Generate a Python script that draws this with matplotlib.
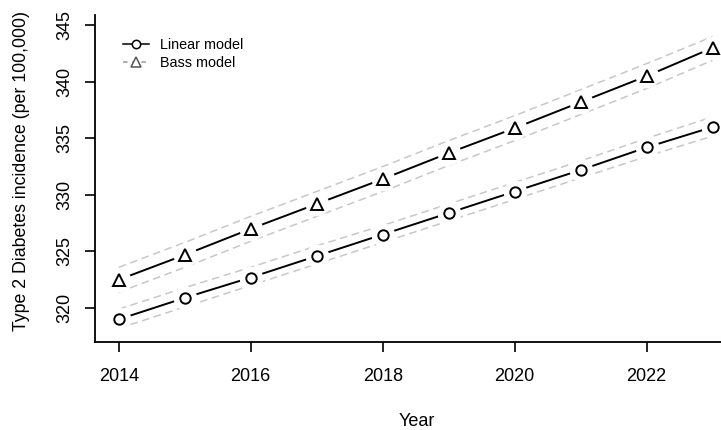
import matplotlib
matplotlib.use("Agg")
import matplotlib.pyplot as plt
from matplotlib.lines import Line2D
import numpy as np

years = [2014, 2015, 2016, 2017, 2018, 2019, 2020, 2021, 2022, 2023]
linear = [319.0, 320.9, 322.7, 324.6, 326.5, 328.4, 330.3, 332.2, 334.2, 336.0]
linear_lo = [318.2, 320.1, 322.0, 323.9, 325.8, 327.7, 329.6, 331.5, 333.4, 335.2]
linear_hi = [319.9, 321.8, 323.6, 325.5, 327.3, 329.2, 331.1, 333.0, 335.0, 336.9]
bass = [322.5, 324.7, 327.0, 329.2, 331.4, 333.7, 335.9, 338.2, 340.5, 343.0]
bass_lo = [321.4, 323.6, 325.9, 328.1, 330.3, 332.6, 334.8, 337.1, 339.4, 341.9]
bass_hi = [323.6, 325.8, 328.1, 330.3, 332.5, 334.8, 337.0, 339.3, 341.6, 344.0]
xticks = [2014, 2016, 2018, 2020, 2022]
yticks = [320, 325, 330, 335, 340, 345]

plt.rcParams['font.family'] = ['Liberation Sans', 'DejaVu Sans']

fig = plt.figure(figsize=(7.21, 4.30), dpi=100)
W, H = 721, 430
ax = fig.add_axes([95/W, 88/H, (739-95)/W, (342-15)/H])

gray = '#c8c8c8'
for lo, hi in [(linear_lo, linear_hi), (bass_lo, bass_hi)]:
    ax.plot(years, lo, color=gray, lw=1.1, ls=(0, (5, 3)), zorder=1)
    ax.plot(years, hi, color=gray, lw=1.1, ls=(0, (5, 3)), zorder=1)

for vals, mk, ms in [(linear, 'o', 7.5), (bass, '^', 8.5)]:
    ax.plot(years, vals, color='black', lw=1.4, zorder=2)
    # white gaps around markers (R type="b")
    ax.plot(years, vals, ls='none', marker='o', ms=17, mfc='white', mec='none', zorder=3)
    ax.plot(years, vals, ls='none', marker=mk, ms=ms, mfc='white', mec='black', mew=1.4, zorder=4)

ax.set_xlim(2013.64, 2023.4)
ax.set_ylim(317.0, 345.9)
ax.set_xticks(xticks)
ax.set_yticks(yticks)
ax.set_xticklabels([str(t) for t in xticks])
ax.set_yticklabels([str(t) for t in yticks], rotation=90, va='center')
ax.spines['top'].set_visible(False)
ax.spines['right'].set_visible(False)
for s in ['left', 'bottom']:
    ax.spines[s].set_linewidth(1.3)
ax.tick_params(axis='both', length=7.5, width=1.2, labelsize=13)
ax.tick_params(axis='x', pad=11)
ax.tick_params(axis='y', pad=8)

fig.text(417/W, 1 - 421/H, 'Year', fontsize=13, ha='center', va='center')
fig.text(22/W, 1 - 171/H, 'Type 2 Diabetes incidence (per 100,000)', fontsize=12.8,
         rotation=90, ha='center', va='center')

handles = [
    Line2D([], [], color='black', lw=1.1, marker='o', ms=6, mfc='white', mec='black', mew=1.1),
    Line2D([], [], color='#9a9a9a', lw=1.1, ls=(0, (3, 3)), marker='^', ms=6.5, mfc='white', mec='#555555', mew=1.1),
]
fig.legend(handles, ['Linear model', 'Bass model'], loc='upper left',
           bbox_to_anchor=(117/W, 1 - 32/H), frameon=False, fontsize=10.4,
           handlelength=1.8, handletextpad=0.8, labelspacing=0.3, borderaxespad=0)

fig.savefig('out.png', dpi=100)
